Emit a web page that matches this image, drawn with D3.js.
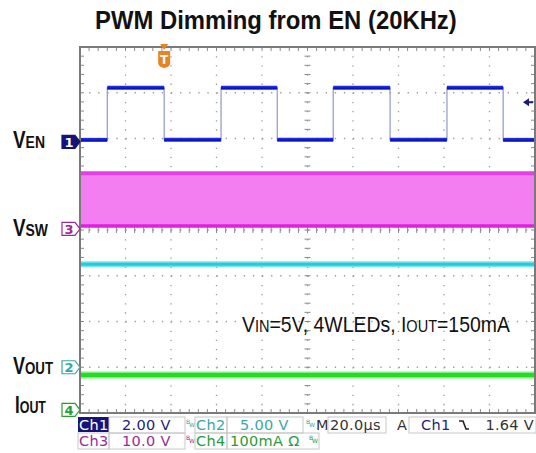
<!DOCTYPE html>
<html><head><meta charset="utf-8">
<script src="https://cdn.jsdelivr.net/npm/d3@7"></script>
<style>html,body{margin:0;padding:0;background:#fff;}svg{display:block;}</style>
</head><body>
<script>
// ---------- data ----------
const titleText = "PWM Dimming from EN (20KHz)";
const timePerDivUs = 20;           // M 20.0µs
const timeDivs = 10, voltDivs = 8;
const triggerTimeUs = 37;
const triggerLevelV = 1.64;

// Ch1 (EN) square wave: times (µs) where level changes, and level (V) after each time
const enTimes = [0, 12, 37, 62, 86.7, 111.3, 136.3, 161.3, 186, 200];
const enVolts = [0, 2.28, 0, 2.28, 0, 2.28, 0, 2.28, 0, 0];
// Ch3 (VSW) switching band
const vswTimes = [0, 200];
const vswHighV = [11.7, 11.7];
const vswLowV = [0.2, 0.2];
// Ch2 (VOUT)
const voutTimes = [0, 200];
const voutV = [11.25, 11.25];
// Ch4 (IOUT average, mA)
const ioutTimes = [0, 200];
const ioutmA = [76, 76];

// channel settings
const chNames = ["Ch1", "Ch2", "Ch3", "Ch4"];
const chScaleLabels = ["2.00 V", "5.00 V", "10.0 V", "100mA Ω"];
const chPerDiv = [2, 5, 10, 100];
const chPosDiv = [1.97, -3.0, 0.07, -3.93];
const chColors = ["#1a1aa8", "#3aa6a6", "#9a2a9a", "#2a9a3a"];
const sideLabels = [["V", "EN"], ["V", "SW"], ["V", "OUT"], ["I", "OUT"]];
const sideLabelCh = [0, 2, 1, 3];
const noteParts = [["V", "big"], ["IN", "small"], ["=5V, 4WLED", "big"], ["s", "big"], [", I", "big"], ["OUT", "small"], ["=150mA", "big"]];
const timebaseLabel = "20.0µs";

// ---------- layout ----------
const W = 536, H = 453;
const X0 = 80, X1 = 535, Y0 = 47, Y1 = 413;
const svg = d3.select("body").append("svg").attr("width", W).attr("height", H);

const x = d3.scaleLinear().domain([0, timePerDivUs * timeDivs]).range([X0, X1]);
const yDiv = d3.scaleLinear().domain([voltDivs / 2, -voltDivs / 2]).range([Y0, Y1]);
const yCh = (ch, v) => yDiv(chPosDiv[ch] + v / chPerDiv[ch]);

// helper: squeeze a text group horizontally to a target width
function fitWidth(sel, x0, y0, targetW) {
  const n = sel.node().getComputedTextLength();
  sel.attr("transform", `translate(${x0},${y0}) scale(${targetW / n},1)`);
}

// title
const title = svg.append("text").attr("font-family", "Liberation Sans, Arial, sans-serif").attr("font-weight", "bold")
  .attr("font-size", 25).attr("fill", "#111").text(titleText);
fitWidth(title, 95, 29, 362);

// plot background
svg.append("rect").attr("x", X0).attr("y", Y0).attr("width", X1 - X0).attr("height", Y1 - Y0).attr("fill", "#fff");

// grid
const g = svg.append("g");
const minorX = (x(timePerDivUs) - x(0)) / 5, minorY = (yDiv(0) - yDiv(1)) / 5;
for (let i = 1; i < timeDivs; i++) {
  g.append("line").attr("x1", x(i * timePerDivUs)).attr("x2", x(i * timePerDivUs)).attr("y1", Y0).attr("y2", Y1)
    .attr("stroke", "#9a9a9a").attr("stroke-width", 1.3).attr("stroke-dasharray", `1.3,${(minorY - 1.3).toFixed(2)}`);
}
for (let j = 1; j < voltDivs; j++) {
  const yy = yDiv(voltDivs / 2 - j);
  g.append("line").attr("x1", X0).attr("x2", X1).attr("y1", yy).attr("y2", yy)
    .attr("stroke", "#9a9a9a").attr("stroke-width", 1.3).attr("stroke-dasharray", `1.3,${(minorX - 1.3).toFixed(2)}`);
}
// center axis ticks and border ticks
const cx = x(timePerDivUs * timeDivs / 2), cy = yDiv(0);
for (let k = 0; k <= timeDivs * 5; k++) {
  const xx = X0 + k * minorX;
  g.append("line").attr("x1", xx).attr("x2", xx).attr("y1", cy - 3).attr("y2", cy + 3).attr("stroke", "#8a8a8a").attr("stroke-width", 1);
  g.append("line").attr("x1", xx).attr("x2", xx).attr("y1", Y0).attr("y2", Y0 + 4).attr("stroke", "#8a8a8a").attr("stroke-width", 1);
  g.append("line").attr("x1", xx).attr("x2", xx).attr("y1", Y1 - 4).attr("y2", Y1).attr("stroke", "#8a8a8a").attr("stroke-width", 1);
}
for (let k = 0; k <= voltDivs * 5; k++) {
  const yy = Y0 + k * minorY;
  g.append("line").attr("x1", cx - 3).attr("x2", cx + 3).attr("y1", yy).attr("y2", yy).attr("stroke", "#8a8a8a").attr("stroke-width", 1);
  g.append("line").attr("x1", X0).attr("x2", X0 + 4).attr("y1", yy).attr("y2", yy).attr("stroke", "#8a8a8a").attr("stroke-width", 1);
  g.append("line").attr("x1", X1 - 4).attr("x2", X1).attr("y1", yy).attr("y2", yy).attr("stroke", "#8a8a8a").attr("stroke-width", 1);
}

// ---------- traces ----------
// VSW band (Ch3)
const vswData = vswTimes.map((t, i) => ({ t, hi: vswHighV[i], lo: vswLowV[i] }));
svg.append("path").datum(vswData)
  .attr("d", d3.area().x(d => x(d.t)).y0(d => yCh(2, d.lo)).y1(d => yCh(2, d.hi)))
  .attr("fill", "#f27ef2");
svg.append("path").datum(vswData).attr("d", d3.line().x(d => x(d.t)).y(d => yCh(2, d.hi)))
  .attr("fill", "none").attr("stroke", "#e53ee5").attr("stroke-width", 4);
svg.append("path").datum(vswData).attr("d", d3.line().x(d => x(d.t)).y(d => yCh(2, d.lo)))
  .attr("fill", "none").attr("stroke", "#e020e0").attr("stroke-width", 3.5);

// VOUT (Ch2)
const voutData = voutTimes.map((t, i) => ({ t, v: voutV[i] }));
svg.append("path").datum(voutData).attr("d", d3.line().x(d => x(d.t)).y(d => yCh(1, d.v)))
  .attr("fill", "none").attr("stroke", "#7ae6ee").attr("stroke-width", 6);
svg.append("path").datum(voutData).attr("d", d3.line().x(d => x(d.t)).y(d => yCh(1, d.v)))
  .attr("fill", "none").attr("stroke", "#22ccdd").attr("stroke-width", 3);

// IOUT (Ch4)
const ioutData = ioutTimes.map((t, i) => ({ t, v: ioutmA[i] }));
svg.append("path").datum(ioutData).attr("d", d3.line().x(d => x(d.t)).y(d => yCh(3, d.v)))
  .attr("fill", "none").attr("stroke", "#80f080").attr("stroke-width", 7);
svg.append("path").datum(ioutData).attr("d", d3.line().x(d => x(d.t)).y(d => yCh(3, d.v)))
  .attr("fill", "none").attr("stroke", "#22dd22").attr("stroke-width", 4);

// EN (Ch1) — thin edges + thick levels
const enData = enTimes.map((t, i) => ({ t, v: enVolts[i] }));
svg.append("path").datum(enData).attr("d", d3.line().curve(d3.curveStepAfter).x(d => x(d.t)).y(d => yCh(0, d.v)))
  .attr("fill", "none").attr("stroke", "#8d99c8").attr("stroke-width", 1.2);
const segs = enData.slice(0, -1).map((d, i) => ({ t0: d.t, t1: enData[i + 1].t, v: d.v }));
svg.selectAll(".enseg").data(segs).join("line")
  .attr("x1", d => x(d.t0)).attr("x2", d => x(d.t1)).attr("y1", d => yCh(0, d.v)).attr("y2", d => yCh(0, d.v))
  .attr("stroke", "#1a2ee0").attr("stroke-width", 4);
svg.selectAll(".enseg2").data(segs).join("line")
  .attr("x1", d => x(d.t0)).attr("x2", d => x(d.t1)).attr("y1", d => yCh(0, d.v) + 0.5).attr("y2", d => yCh(0, d.v) + 0.5)
  .attr("stroke", "#0a14b8").attr("stroke-width", 1.5);

// border
svg.append("rect").attr("x", X0).attr("y", Y0).attr("width", X1 - X0).attr("height", Y1 - Y0)
  .attr("fill", "none").attr("stroke", "#7a7a7a").attr("stroke-width", 2);

// trigger marker (T)
const tx = x(triggerTimeUs);
svg.append("path").attr("d", `M${tx - 4},${Y0 - 3} L${tx + 4},${Y0 - 3} L${tx},${Y0 + 3} Z`).attr("fill", "#e8831e");
svg.append("path").attr("d", `M${tx - 6},${Y0 + 4} L${tx + 6},${Y0 + 4} L${tx + 6},${Y0 + 16} Q${tx + 6},${Y0 + 20} ${tx},${Y0 + 21} Q${tx - 6},${Y0 + 20} ${tx - 6},${Y0 + 16} Z`).attr("fill", "#e8831e");
svg.append("text").attr("x", tx).attr("y", Y0 + 17).attr("text-anchor", "middle").attr("font-family", "DejaVu Sans, sans-serif")
  .attr("font-size", 12).attr("font-weight", "bold").attr("fill", "#fff").text("T");

// trigger level arrow
const ty = yCh(0, triggerLevelV);
svg.append("path").attr("d", `M${X1 - 12},${ty} L${X1 - 6},${ty - 4} L${X1 - 6},${ty - 1} L${X1 - 2},${ty - 1} L${X1 - 2},${ty + 1} L${X1 - 6},${ty + 1} L${X1 - 6},${ty + 4} Z`).attr("fill", "#1a1a80");

// channel ground markers
const markerOrder = [0, 2, 1, 3];
markerOrder.forEach(ch => {
  const my = yCh(ch, 0) + (ch === 0 ? 2 : ch === 2 ? 2 : 0);
  const filled = ch === 0;
  svg.append("path").attr("d", `M62,${my - 6.5} L75,${my - 6.5} L80,${my} L75,${my + 6.5} L62,${my + 6.5} Z`)
    .attr("fill", filled ? "#141478" : "#fff").attr("stroke", filled ? "#141478" : chColors[ch]).attr("stroke-width", 1.2);
  svg.append("text").attr("x", 69).attr("y", my + 5).attr("text-anchor", "middle")
    .attr("font-family", "DejaVu Sans, sans-serif").attr("font-size", 13).attr("font-weight", "bold")
    .attr("fill", filled ? "#fff" : chColors[ch]).text(String(ch + 1));
});

// side labels (baseline offset below marker, and width)
const sideLabelDy = [8, 9, 7, 3];
const sideLabelW = [32, 35, 40, 31];
sideLabels.forEach((lab, i) => {
  const ch = sideLabelCh[i];
  const t = svg.append("text")
    .attr("font-family", "Liberation Sans, Arial, sans-serif").attr("font-weight", "bold").attr("fill", "#111");
  t.append("tspan").attr("font-size", 23).text(lab[0]);
  t.append("tspan").attr("font-size", 17).text(lab[1]);
  fitWidth(t, i === 3 ? 15 : 13, yCh(ch, 0) + sideLabelDy[i], sideLabelW[i]);
});

// annotation
const note = svg.append("text")
  .attr("font-family", "Liberation Sans, Arial, sans-serif").attr("fill", "#111");
noteParts.forEach(p => note.append("tspan").attr("font-size", p[1] === "big" ? 22 : 16.5).text(p[0]));
fitWidth(note, 242, 332, 268);

// ---------- status bar ----------
const sb = svg.append("g").attr("font-family", "DejaVu Sans, sans-serif").attr("font-size", 14.5);
const r1 = 417, r2 = 433, rh = 16;
function box(x0, y0, w, h, fill) {
  sb.append("rect").attr("x", x0).attr("y", y0).attr("width", w).attr("height", h)
    .attr("fill", fill || "none").attr("stroke", "#c8c8c8").attr("stroke-width", 1);
}
function txt(xx, yy, s, col, anchor) {
  sb.append("text").attr("x", xx).attr("y", yy).attr("fill", col).attr("text-anchor", anchor || "start")
    .attr("letter-spacing", 0.3).text(s);
}
function bw(xx, yy, col) {
  const t = sb.append("text").attr("x", xx).attr("y", yy).attr("fill", col).attr("font-size", 6);
  t.append("tspan").text("B");
  t.append("tspan").attr("dy", 3).attr("dx", -1).text("W");
}
// row 1
sb.append("rect").attr("x", 78).attr("y", r1).attr("width", 31).attr("height", rh - 1).attr("fill", "#141478");
txt(79, r1 + 13, chNames[0], "#fff");
box(109, r1, 76, rh);
txt(122, r1 + 13, chScaleLabels[0], "#22227a");
bw(186, r1 + 7, chColors[1]);
box(195, r1, 32, rh);
txt(196, r1 + 13, chNames[1], chColors[1]);
box(227, r1, 76, rh);
txt(240, r1 + 13, chScaleLabels[1], chColors[1]);
bw(306, r1 + 7, chColors[1]);
txt(316, r1 + 13, "M", "#333");
box(328, r1, 58, rh);
txt(330, r1 + 13, timebaseLabel, "#333");
txt(397, r1 + 13, "A", "#333");
box(409, r1, 127, rh);
txt(421, r1 + 13, chNames[0], "#22227a");
sb.append("path").attr("d", `M459,${r1 + 4} L463,${r1 + 4} L466,${r1 + 12} L469,${r1 + 12}`)
  .attr("fill", "none").attr("stroke", "#222").attr("stroke-width", 1.6);
txt(534, r1 + 13, triggerLevelV.toFixed(2) + " V", "#333", "end");
// row 2
box(78, r2, 31, rh);
txt(79, r2 + 13, chNames[2], chColors[2]);
box(109, r2, 76, rh);
txt(122, r2 + 13, chScaleLabels[2], chColors[2]);
bw(186, r2 + 7, chColors[2]);
box(195, r2, 32, rh);
txt(196, r2 + 13, chNames[3], chColors[3]);
box(227, r2, 92, rh);
txt(230, r2 + 13, chScaleLabels[3], chColors[3]);
bw(309, r2 + 7, chColors[3]);
</script>
</body></html>
